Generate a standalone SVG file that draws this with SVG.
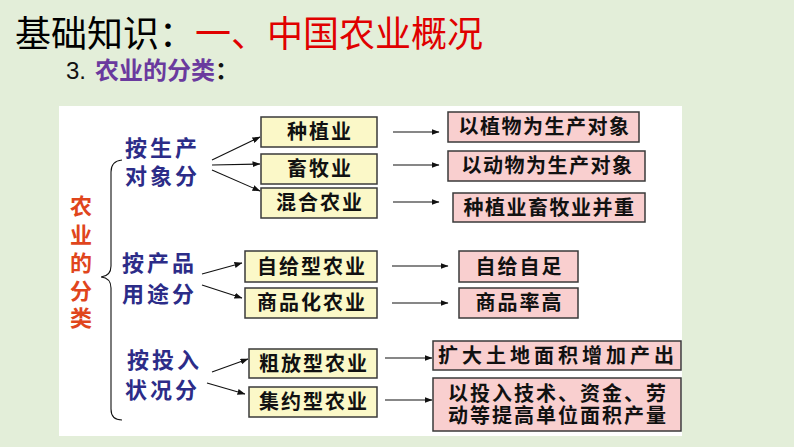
<svg xmlns="http://www.w3.org/2000/svg" width="794" height="447" viewBox="0 0 794 447">
<defs>
<style>
.cjk{font-family:"Noto Sans CJK SC","Noto Sans",sans-serif;}
.title{font-size:36px;font-weight:400;}
.sub{font-size:24px;font-weight:700;fill:#6a3a9e;}
.cat{font-size:22px;font-weight:700;fill:#2c2c88;letter-spacing:3px;}
.vert{font-size:22px;font-weight:700;fill:#e0451c;text-anchor:middle;}
.yb{fill:#fbf8c8;stroke:#3a3a3a;stroke-width:1.5;}
.pb{fill:#f9cfcf;stroke:#3a3a3a;stroke-width:1.5;}
.bt{font-size:20px;font-weight:700;fill:#111;text-anchor:middle;letter-spacing:2px;}
.ln{stroke:#111;stroke-width:1.1;fill:none;}
</style>
<marker id="ah" viewBox="0 0 8 6" refX="7.5" refY="3" markerWidth="8" markerHeight="6" markerUnits="userSpaceOnUse" orient="auto">
<path d="M0,0 L8,3 L0,6 z" fill="#111"/>
</marker>
</defs>
<rect x="0" y="0" width="794" height="447" fill="#e3eed9"/>
<rect x="59" y="106" width="623" height="330" fill="#ffffff"/>

<g id="title" class="cjk">
<text x="15" y="47" class="title" fill="#000">基础知识：<tspan fill="#e00000">一、中国农业概况</tspan></text>
<text x="66" y="79" font-family="Liberation Sans,sans-serif" font-size="24" fill="#111">3.</text>
<text x="95" y="79" class="sub">农业的分类<tspan fill="#111">：</tspan></text>
</g>

<g id="root" class="cjk">
<text x="81" y="214" class="vert">农</text>
<text x="81" y="243" class="vert">业</text>
<text x="81" y="271" class="vert">的</text>
<text x="81" y="299" class="vert">分</text>
<text x="81" y="326" class="vert">类</text>
</g>

<g id="cat1" class="cjk">
<text x="125" y="156" class="cat">按生产</text>
<text x="125" y="184" class="cat">对象分</text>
</g>
<g id="cat2" class="cjk">
<text x="122" y="271" class="cat">按产品</text>
<text x="122" y="302" class="cat">用途分</text>
</g>
<g id="cat3" class="cjk">
<text x="127" y="368" class="cat">按投入</text>
<text x="125" y="398" class="cat">状况分</text>
</g>

<g id="n-zzy" class="cjk"><rect class="yb" x="261" y="117" width="116" height="30"/><text class="bt" x="320" y="139">种植业</text></g>
<g id="n-xmy" class="cjk"><rect class="yb" x="261" y="154" width="116" height="30"/><text class="bt" x="320" y="176">畜牧业</text></g>
<g id="n-hhny" class="cjk"><rect class="yb" x="261" y="188" width="116" height="30"/><text class="bt" x="320" y="210">混合农业</text></g>
<g id="n-zgx" class="cjk"><rect class="yb" x="245" y="251" width="132" height="31"/><text class="bt" x="312" y="273.5">自给型农业</text></g>
<g id="n-sph" class="cjk"><rect class="yb" x="245" y="288" width="132" height="30"/><text class="bt" x="312" y="310">商品化农业</text></g>
<g id="n-cfx" class="cjk"><rect class="yb" x="249" y="349" width="128" height="29"/><text class="bt" x="314" y="370.5">粗放型农业</text></g>
<g id="n-jyx" class="cjk"><rect class="yb" x="249" y="387" width="128" height="30"/><text class="bt" x="314" y="409">集约型农业</text></g>

<g id="d-zw" class="cjk"><rect class="pb" x="448" y="112" width="191" height="30"/><text class="bt" x="544.5" y="134" style="letter-spacing:1.5px">以植物为生产对象</text></g>
<g id="d-dw" class="cjk"><rect class="pb" x="448" y="151" width="197" height="30"/><text class="bt" x="547.5" y="173" style="letter-spacing:1.5px">以动物为生产对象</text></g>
<g id="d-bz" class="cjk"><rect class="pb" x="453" y="193" width="192" height="29"/><text class="bt" x="549.5" y="214.5" style="letter-spacing:1.5px">种植业畜牧业并重</text></g>
<g id="d-zgzz" class="cjk"><rect class="pb" x="459" y="251" width="119" height="31"/><text class="bt" x="519.5" y="273.5">自给自足</text></g>
<g id="d-splg" class="cjk"><rect class="pb" x="459" y="288" width="119" height="30"/><text class="bt" x="519.5" y="310">商品率高</text></g>
<g id="d-kd" class="cjk"><rect class="pb" x="433" y="341" width="248" height="29"/><text class="bt" x="558" y="362.5" style="letter-spacing:4px">扩大土地面积增加产出</text></g>
<g id="d-tr" class="cjk"><rect class="pb" x="433" y="378" width="248" height="53"/><text class="bt" x="558" y="401">以投入技术、资金、劳</text><text class="bt" x="558" y="423">动等提高单位面积产量</text></g>

<g id="connectors">
<path class="ln" stroke="#333" d="M122,160 Q111,161 111,172 L111,266 Q111,276 101,277 Q111,278 111,288 L111,409 Q111,420 122,420"/>
<line class="ln" x1="212" y1="160" x2="260" y2="137" marker-end="url(#ah)"/>
<line class="ln" x1="212" y1="165" x2="260" y2="164" marker-end="url(#ah)"/>
<line class="ln" x1="212" y1="170" x2="260" y2="191" marker-end="url(#ah)"/>
<line class="ln" x1="202" y1="274" x2="242" y2="263" marker-end="url(#ah)"/>
<line class="ln" x1="202" y1="285" x2="242" y2="298" marker-end="url(#ah)"/>
<line class="ln" x1="212" y1="372" x2="248" y2="359" marker-end="url(#ah)"/>
<line class="ln" x1="207" y1="383" x2="245" y2="394" marker-end="url(#ah)"/>
<line class="ln" x1="393" y1="132" x2="439" y2="132" marker-end="url(#ah)"/>
<line class="ln" x1="393" y1="165" x2="439" y2="165" marker-end="url(#ah)"/>
<line class="ln" x1="393" y1="202" x2="439" y2="202" marker-end="url(#ah)"/>
<line class="ln" x1="392" y1="266" x2="448" y2="266" marker-end="url(#ah)"/>
<line class="ln" x1="392" y1="303" x2="448" y2="303" marker-end="url(#ah)"/>
<line class="ln" x1="385" y1="358" x2="432" y2="358" marker-end="url(#ah)"/>
<line class="ln" x1="385" y1="400" x2="432" y2="400" marker-end="url(#ah)"/>
</g>
</svg>
